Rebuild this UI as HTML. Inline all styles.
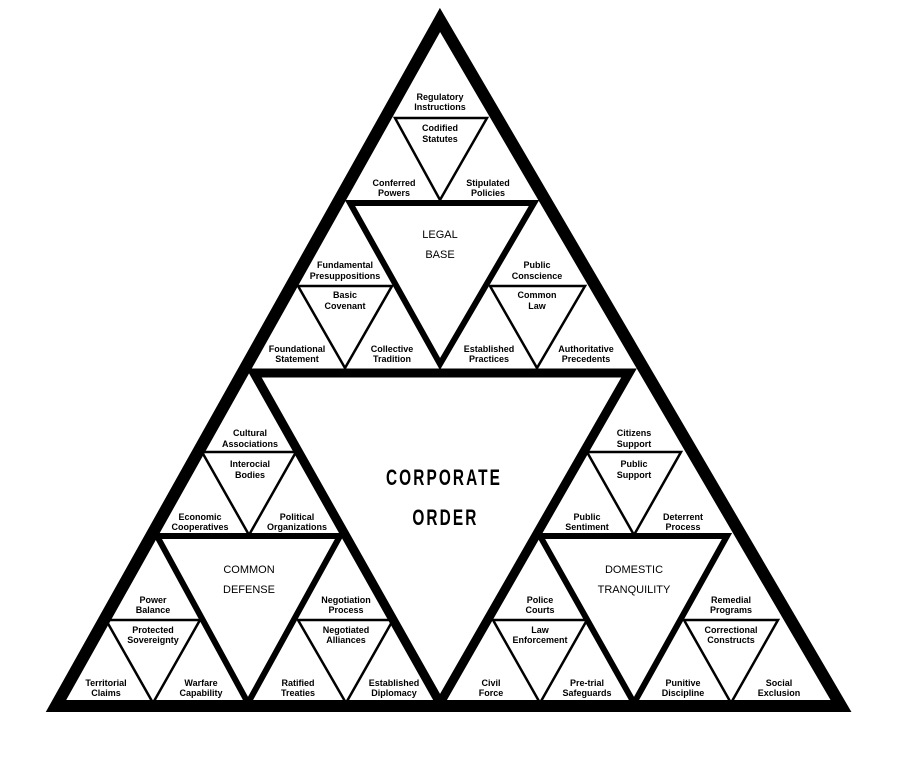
<!DOCTYPE html>
<html><head><meta charset="utf-8"><style>
html,body{margin:0;padding:0;background:#fff;width:910px;height:765px;overflow:hidden}
svg{display:block}
text{font-family:"Liberation Sans Narrow","Liberation Sans",sans-serif;font-size:9px;fill:#000;text-anchor:middle;font-weight:bold}
.m{font-size:11px;font-weight:normal;font-family:"Liberation Sans",sans-serif}
.big{font-size:22px;letter-spacing:3px;font-weight:bold;font-family:"Liberation Sans",sans-serif}
</style></head><body>
<svg width="910" height="765" viewBox="0 0 910 765" xmlns="http://www.w3.org/2000/svg">
<g fill="none" stroke="#000" stroke-linejoin="miter" stroke-miterlimit="10">
<polygon points="440,20 56,706 841,706" stroke-width="12"/>
<polygon points="254,373 629,373 440,703" stroke-width="9"/>
<polygon points="350,203 534,203 440,364" stroke-width="6"/>
<polygon points="157,536 340,536 248,703" stroke-width="6"/>
<polygon points="540,536 727,536 634,703" stroke-width="6"/>
<g stroke-width="2.5">
<polygon points="395,118 487,118 440,200"/>
<polygon points="298,286 392,286 345,368"/>
<polygon points="490,286 585,286 537,368"/>
<polygon points="202,452 296,452 249,535"/>
<polygon points="587,452 681,452 634,535"/>
<polygon points="106,620 200,620 153,703"/>
<polygon points="298,620 393,620 346,703"/>
<polygon points="493,620 587,620 540,703"/>
<polygon points="684,620 778,620 731,703"/>
</g>
</g>
<text x="440" y="100">Regulatory</text><text x="440" y="110">Instructions</text>
<text x="440" y="131">Codified</text><text x="440" y="142">Statutes</text>
<text x="394" y="186">Conferred</text><text x="394" y="196">Powers</text>
<text x="488" y="186">Stipulated</text><text x="488" y="196">Policies</text>
<text class="m" x="440" y="238">LEGAL</text><text class="m" x="440" y="258">BASE</text>
<text x="345" y="268">Fundamental</text><text x="345" y="279">Presuppositions</text>
<text x="537" y="268">Public</text><text x="537" y="279">Conscience</text>
<text x="345" y="298">Basic</text><text x="345" y="309">Covenant</text>
<text x="537" y="298">Common</text><text x="537" y="309">Law</text>
<text x="297" y="352">Foundational</text><text x="297" y="362">Statement</text>
<text x="392" y="352">Collective</text><text x="392" y="362">Tradition</text>
<text x="489" y="352">Established</text><text x="489" y="362">Practices</text>
<text x="586" y="352">Authoritative</text><text x="586" y="362">Precedents</text>
<text x="250" y="436">Cultural</text><text x="250" y="447">Associations</text>
<text x="634" y="436">Citizens</text><text x="634" y="447">Support</text>
<text x="250" y="467">Interocial</text><text x="250" y="478">Bodies</text>
<text x="634" y="467">Public</text><text x="634" y="478">Support</text>
<text x="200" y="520">Economic</text><text x="200" y="530">Cooperatives</text>
<text x="297" y="520">Political</text><text x="297" y="530">Organizations</text>
<text x="587" y="520">Public</text><text x="587" y="530">Sentiment</text>
<text x="683" y="520">Deterrent</text><text x="683" y="530">Process</text>
<g transform="translate(444,0) scale(0.7,1)"><text class="big" x="0" y="485">CORPORATE</text><text class="big" x="2" y="525">ORDER</text></g>
<text class="m" x="249" y="573">COMMON</text><text class="m" x="249" y="593">DEFENSE</text>
<text class="m" x="634" y="573">DOMESTIC</text><text class="m" x="634" y="593">TRANQUILITY</text>
<text x="153" y="603">Power</text><text x="153" y="613">Balance</text>
<text x="346" y="603">Negotiation</text><text x="346" y="613">Process</text>
<text x="540" y="603">Police</text><text x="540" y="613">Courts</text>
<text x="731" y="603">Remedial</text><text x="731" y="613">Programs</text>
<text x="153" y="633">Protected</text><text x="153" y="643">Sovereignty</text>
<text x="346" y="633">Negotiated</text><text x="346" y="643">Alliances</text>
<text x="540" y="633">Law</text><text x="540" y="643">Enforcement</text>
<text x="731" y="633">Correctional</text><text x="731" y="643">Constructs</text>
<text x="106" y="686">Territorial</text><text x="106" y="696">Claims</text>
<text x="201" y="686">Warfare</text><text x="201" y="696">Capability</text>
<text x="298" y="686">Ratified</text><text x="298" y="696">Treaties</text>
<text x="394" y="686">Established</text><text x="394" y="696">Diplomacy</text>
<text x="491" y="686">Civil</text><text x="491" y="696">Force</text>
<text x="587" y="686">Pre-trial</text><text x="587" y="696">Safeguards</text>
<text x="683" y="686">Punitive</text><text x="683" y="696">Discipline</text>
<text x="779" y="686">Social</text><text x="779" y="696">Exclusion</text>
</svg>
</body></html>
